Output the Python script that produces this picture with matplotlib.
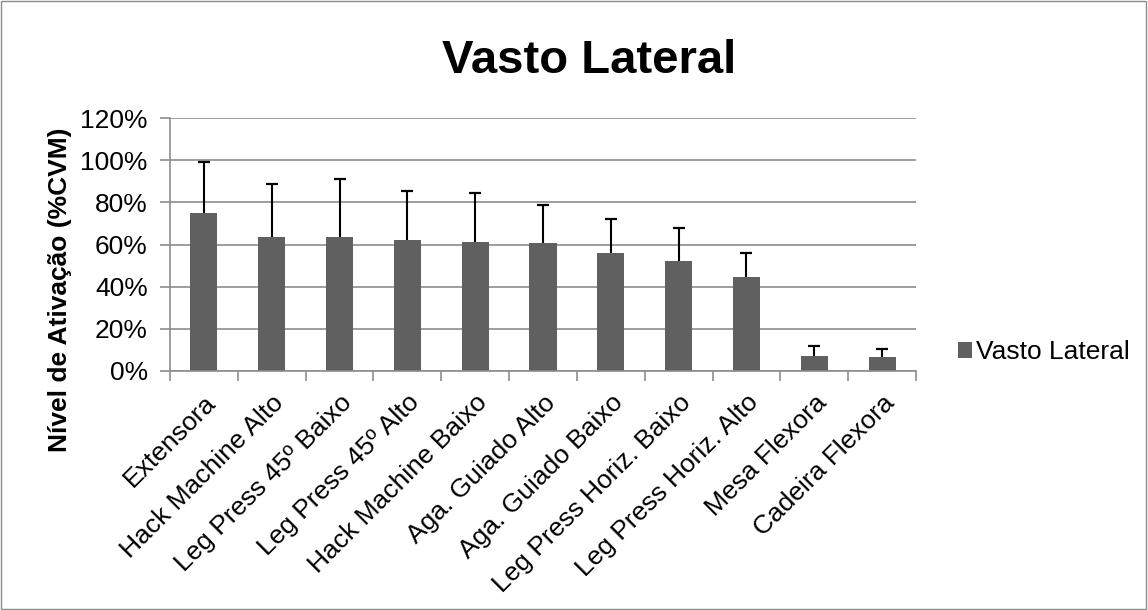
import matplotlib.pyplot as plt
from matplotlib.patches import Rectangle

plt.rcParams['font.family'] = ['Liberation Sans', 'DejaVu Sans']

exercicios = ["Extensora", "Hack Machine Alto", "Leg Press 45º Baixo",
              "Leg Press 45º Alto", "Hack Machine Baixo", "Aga. Guiado Alto",
              "Aga. Guiado Baixo", "Leg Press Horiz. Baixo",
              "Leg Press Horiz. Alto", "Mesa Flexora", "Cadeira Flexora"]
media = [74.9, 63.6, 63.5, 61.9, 61.3, 60.6, 56.0, 52.2, 44.6, 7.0, 6.6]
topo_erro = [99.1, 88.5, 91.2, 85.6, 84.4, 78.5, 72.2, 67.6, 56.2, 12.0, 10.6]
desvio = [t - m for t, m in zip(topo_erro, media)]
yticks = [0, 20, 40, 60, 80, 100, 120]

fig = plt.figure(figsize=(11.48, 6.10), dpi=100)
ax = fig.add_axes([170 / 1148, 1 - 371 / 610, 746 / 1148, 253 / 610])

x = list(range(len(exercicios)))
ax.bar(x, media, width=0.4, color='#606060', zorder=2, label='Vasto Lateral')
eb = ax.errorbar(x, media, yerr=[[0] * len(x), desvio], fmt='none', ecolor='black',
                 elinewidth=1.5, capsize=4, capthick=1.6, zorder=3)
# only the upper cap is drawn in the original
eb[1][0].set_visible(False)

ax.set_xlim(-0.5, len(x) - 0.5)
ax.set_ylim(0, 120)
ax.set_yticks(yticks)
ax.set_yticklabels([f"{v}%" for v in yticks], fontsize=19)
ax.yaxis.grid(True, color='#8c8c8c', linewidth=1.2, zorder=0)
ax.set_axisbelow(True)

ax.set_xticks(x)
ax.set_xticklabels(exercicios, rotation=45, ha='right', va='top',
                   rotation_mode='anchor', fontsize=19)
ax.set_xticks([i - 0.5 for i in range(len(x) + 1)], minor=True)
ax.tick_params(axis='x', which='major', length=0, pad=14)
ax.tick_params(axis='x', which='minor', length=7, color='#8c8c8c', width=1.2)
ax.tick_params(axis='y', length=7, color='#8c8c8c', width=1.2, pad=9)

for s in ['top', 'right']:
    ax.spines[s].set_visible(False)
for s in ['left', 'bottom']:
    ax.spines[s].set_color('#8c8c8c')
    ax.spines[s].set_linewidth(1.2)

fig.text(60 / 1148, 1 - 290 / 610, "Nível de Ativação (%CVM)", fontsize=19,
         fontweight='bold', rotation=90, ha='center', va='center')

fig.text(589 / 1148, 1 - 61 / 610, "Vasto Lateral", fontsize=34,
         fontweight='bold', ha='center', va='center')

fig.legend(loc='center left', bbox_to_anchor=(950 / 1148, 1 - 352 / 610),
           frameon=False, fontsize=19, handlelength=0.55, handleheight=0.55,
           handletextpad=0.15, borderaxespad=0, borderpad=0.3)

fig.patches.append(Rectangle((0.001, 0.002), 0.997, 0.996, transform=fig.transFigure,
                             fill=False, edgecolor='#8c8c8c', linewidth=1))

fig.savefig("out.png", dpi=100)
